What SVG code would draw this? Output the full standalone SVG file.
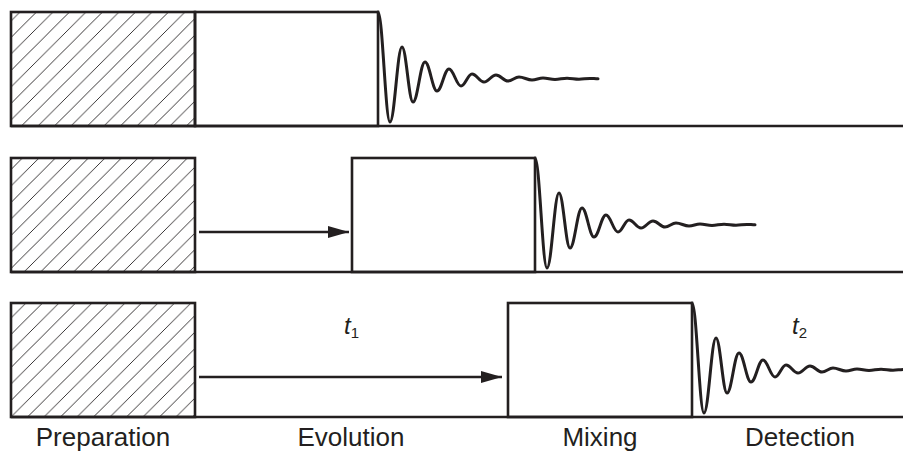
<svg xmlns="http://www.w3.org/2000/svg" width="903" height="452" viewBox="0 0 903 452">
  <style>
    .box{fill:none;stroke:#231f20;stroke-width:2.6;stroke-linejoin:miter}
    .hatch{fill:url(#hatch);stroke:#231f20;stroke-width:2.6}
    .base{stroke:#231f20;stroke-width:2.6;fill:none}
    .fid{fill:none;stroke:#231f20;stroke-width:3;stroke-linecap:round;stroke-linejoin:round}
    .arrow{stroke:#231f20;stroke-width:2.6;fill:none}
    .label{font-family:"Liberation Sans",Arial,sans-serif;font-size:26px;fill:#231f20;text-anchor:middle}
    .var{font-family:"Liberation Sans",Arial,sans-serif;font-size:24px;font-style:italic;fill:#231f20}
    .sub{font-size:15px;font-style:normal}
  </style>
  <defs>
    <pattern id="hatch" patternUnits="userSpaceOnUse" x="-1" y="0" width="16.5" height="16.5">
      <path d="M-2,18.5 L18.5,-2 M-4,4 L4,-4 M12.5,20.5 L20.5,12.5" stroke="#231f20" stroke-width="0.9" fill="none"/>
    </pattern>
    <marker id="head" markerUnits="userSpaceOnUse" markerWidth="22" markerHeight="14" refX="21" refY="6" orient="auto">
      <path d="M0,0 L21,6 L0,12 Z" fill="#231f20"/>
    </marker>
    <path id="fid" class="fid" d="M0,0 C4.6,0 7.4,110 12,110 C16.6,110 19.4,35 24,35 C28.2,35 30.8,90 35,90 C39.6,90 42.4,50 47,50 C51.6,50 54.4,79 59,79 C63.6,79 66.4,57 71,57 C75.6,57 78.4,74 83,74 C87.2,74 89.8,62 94,62 C98.6,62 101.4,70 106,70 C110.6,70 113.4,63 118,63 C122.6,63 125.4,69 130,69 C134.2,69 136.8,65 141,65 C145.9,65 149.1,68 154,68 C158.2,68 160.8,66 165,66 C169.6,66 172.4,67.5 177,67.5 C181.6,67.5 184.4,66.2 189,66.2 C193.6,66.2 196.4,67.2 201,67.2 C205.2,67.2 207.8,66.4 212,66.4 C215,66.4 217,66.8 220,66.8"/>
  </defs>
  <rect width="903" height="452" fill="#ffffff"/>

  <!-- Row 1 -->
  <g id="row1-baseline"><line class="base" x1="11" y1="126" x2="903" y2="126"/></g>
  <g id="row1-preparation"><rect class="hatch" x="11" y="12" width="184" height="114"/></g>
  <g id="row1-mixing"><rect class="box" x="195" y="12" width="183" height="114"/></g>
  <g id="row1-detection"><use href="#fid" x="378" y="12"/></g>

  <!-- Row 2 -->
  <g id="row2-baseline"><line class="base" x1="11" y1="272" x2="903" y2="272"/></g>
  <g id="row2-preparation"><rect class="hatch" x="11" y="158" width="184" height="114"/></g>
  <g id="row2-mixing"><rect class="box" x="352" y="158" width="183" height="114"/></g>
  <g id="row2-detection"><use href="#fid" x="535" y="158"/></g>

  <!-- Row 3 -->
  <g id="row3-baseline"><line class="base" x1="11" y1="417" x2="903" y2="417"/></g>
  <g id="row3-preparation"><rect class="hatch" x="11" y="303" width="184" height="114"/></g>
  <g id="row3-mixing"><rect class="box" x="508" y="303" width="184" height="114"/></g>
  <g id="row3-detection"><use href="#fid" x="692" y="303"/></g>

  <!-- Connectors -->
  <g id="connectors">
    <line class="arrow" x1="199" y1="232" x2="349" y2="232" marker-end="url(#head)"/>
    <line class="arrow" x1="199" y1="377" x2="502" y2="377" marker-end="url(#head)"/>
  </g>

  <!-- Variable labels -->
  <g id="t1-label"><text class="var" x="344" y="334">t<tspan class="sub" dy="4">1</tspan></text></g>
  <g id="t2-label"><text class="var" x="792" y="334">t<tspan class="sub" dy="4">2</tspan></text></g>

  <!-- Stage labels -->
  <g id="stage-labels">
    <text class="label" x="103" y="446">Preparation</text>
    <text class="label" x="351" y="446">Evolution</text>
    <text class="label" x="600" y="446">Mixing</text>
    <text class="label" x="800" y="446">Detection</text>
  </g>
</svg>
